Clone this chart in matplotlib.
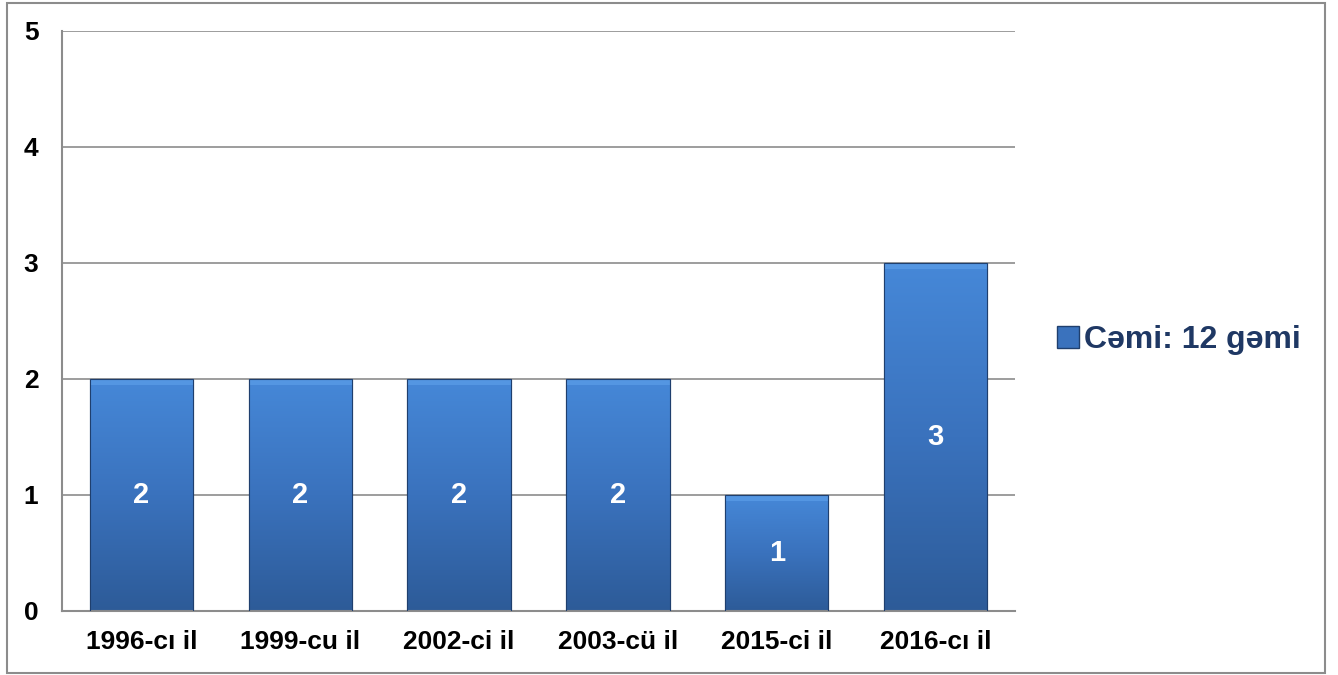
import matplotlib
matplotlib.use("Agg")
import matplotlib.pyplot as plt
import numpy as np
from matplotlib.patches import Rectangle, Patch
from matplotlib.colors import LinearSegmentedColormap

# data
categories = ["1996-cı il", "1999-cu il", "2002-ci il", "2003-cü il", "2015-ci il", "2016-cı il"]
values = [2, 2, 2, 2, 1, 3]
series_name = "Cəmi: 12 gəmi"
yticks = [0, 1, 2, 3, 4, 5]

plt.rcParams['font.family'] = ['Liberation Sans', 'DejaVu Sans']

fig = plt.figure(figsize=(13.38, 6.75), dpi=100)
# outer chart border
fig.patches.append(Rectangle((7/1338, 2/675), 1318/1338, 670/675, transform=fig.transFigure,
                             fill=False, edgecolor='#8c8c8c', linewidth=1.5))

ax = fig.add_axes([62/1338, 64/675, 953/1338, 580/675])
x = np.arange(len(categories))
bars = ax.bar(x, values, width=0.65, color='#3a74c2', edgecolor='#1f3f6e', linewidth=0.8, zorder=2)

# gradient fill, light at top, darker at bottom
cmap = LinearSegmentedColormap.from_list("g", ["#2d5b98", "#3a72bd", "#4688d8"])
grad = np.linspace(0, 1, 256).reshape(-1, 1)
for b in bars:
    bx, by, bw, bh = b.get_x(), b.get_y(), b.get_width(), b.get_height()
    im = ax.imshow(grad, extent=[bx, bx + bw, by, by + bh], origin='lower', cmap=cmap,
                   aspect='auto', zorder=2.5)
    im.set_clip_path(b)
    # light bevel at top
    ax.add_patch(Rectangle((bx, by + bh - 0.05), bw, 0.05, facecolor='#5496e2', edgecolor='none',
                           zorder=2.6))
    ax.add_patch(Rectangle((bx, by), bw, bh, fill=False, edgecolor='#1f3f6e', linewidth=0.8, zorder=2.7))
    ax.text(bx + bw / 2, by + bh / 2, str(int(bh)), ha='center', va='center', color='white',
            fontsize=21, fontweight='bold', zorder=3)

ax.set_xlim(-0.5, len(categories) - 0.5)
ax.set_ylim(0, 5)
ax.set_yticks(yticks)
ax.set_xticks(x)
ax.set_xticklabels(categories, fontsize=19, fontweight='bold')
ax.set_yticklabels([str(t) for t in yticks], fontsize=19, fontweight='bold')
ax.tick_params(axis='x', length=0, pad=14)
ax.tick_params(axis='y', length=0, pad=17)
ax.grid(axis='y', color='#8c8c8c', linewidth=1.2, zorder=0)
ax.set_axisbelow(True)
for s in ['top', 'right']:
    ax.spines[s].set_visible(False)
for s in ['left', 'bottom']:
    ax.spines[s].set_color('#8c8c8c')
    ax.spines[s].set_linewidth(1.5)

handle = Patch(facecolor='#3a72bd', edgecolor='#1f3f6e', label=series_name)
fig.legend(handles=[handle], loc='center left', bbox_to_anchor=(1028/1338, 1 - 340/675),
           frameon=False, handlelength=0.7, handleheight=0.7, handletextpad=0.15,
           labelcolor='#1f3864', prop={'weight': 'bold', 'size': 23})

fig.savefig("out.png", dpi=100)
